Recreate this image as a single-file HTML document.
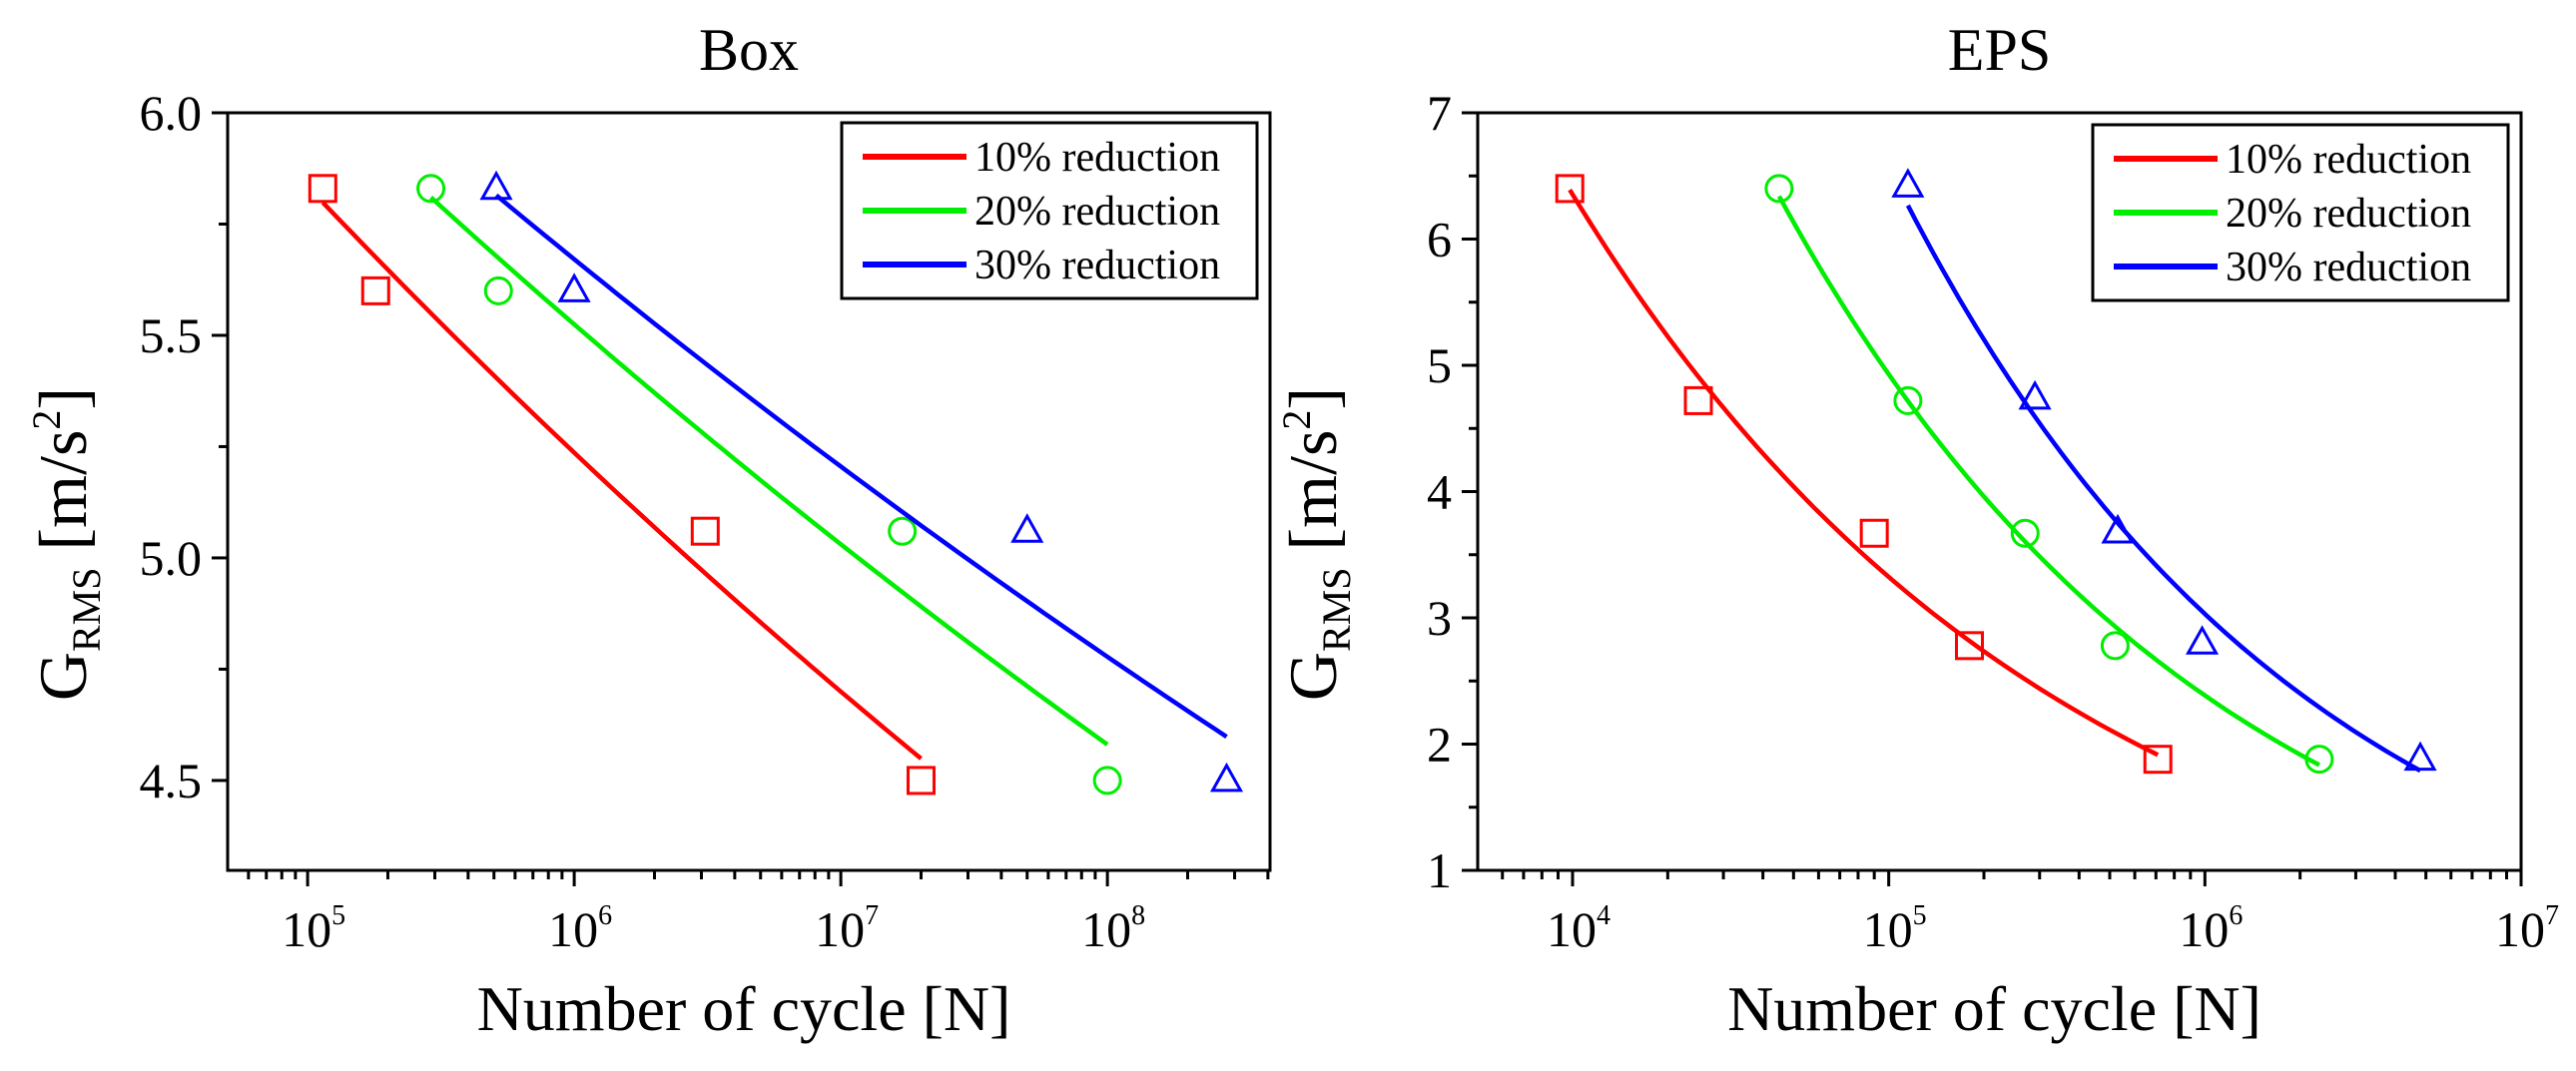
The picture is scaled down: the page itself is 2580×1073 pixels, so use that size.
<!DOCTYPE html>
<html><head><meta charset="utf-8"><style>
html,body{margin:0;padding:0;background:#fff;}
svg{display:block;font-family:"Liberation Serif",serif;}
</style></head><body>
<svg id="chart" width="2580" height="1073" viewBox="0 0 2580 1073" xmlns="http://www.w3.org/2000/svg"></svg>
<script>
// ---- Box panel data ----
const boxRedN = [1.14e5, 1.8e5, 3.1e6, 2.0e7];
const boxRedG = [5.83, 5.60, 5.06, 4.50];
const boxGreenN = [2.9e5, 5.2e5, 1.7e7, 1.0e8];
const boxGreenG = [5.83, 5.60, 5.06, 4.50];
const boxBlueN = [5.1e5, 1.0e6, 5.0e7, 2.8e8];
const boxBlueG = [5.83, 5.60, 5.06, 4.50];
const boxYTicks = [4.5, 5.0, 5.5, 6.0];
const boxYTickLabels = ["4.5", "5.0", "5.5", "6.0"];
const boxXDecades = [5, 6, 7, 8];
// ---- EPS panel data ----
const epsRedN = [9.8e3, 2.5e4, 9.0e4, 1.8e5, 7.1e5];
const epsRedG = [6.40, 4.72, 3.67, 2.78, 1.88];
const epsGreenN = [4.5e4, 1.15e5, 2.7e5, 5.2e5, 2.3e6];
const epsGreenG = [6.40, 4.72, 3.67, 2.78, 1.88];
const epsBlueN = [1.15e5, 2.9e5, 5.3e5, 9.8e5, 4.8e6];
const epsBlueG = [6.42, 4.74, 3.68, 2.80, 1.88];
const epsYTicks = [1, 2, 3, 4, 5, 6, 7];
const epsYTickLabels = ["1", "2", "3", "4", "5", "6", "7"];
const epsXDecades = [4, 5, 6, 7];
const legendLabels = ["10% reduction", "20% reduction", "30% reduction"];

const NS = "http://www.w3.org/2000/svg";
const svg = document.getElementById('chart');
function mk(tag, attrs, parent, text) {
  const e = document.createElementNS(NS, tag);
  for (const k in attrs) e.setAttribute(k, attrs[k]);
  if (text !== undefined) e.textContent = text;
  (parent || svg).appendChild(e);
  return e;
}
const RED = "#ff0000", GREEN = "#00ee00", BLUE = "#0000ff";

function panel(cfg) {
  const g = mk('g', {});
  
  
  const L = cfg.left, R = cfg.right, T = 113, B = 872;
  const x = v => L + (Math.log10(v) - cfg.xmin) / (cfg.xmax - cfg.xmin) * (R - L);
  const y = v => B - (v - cfg.ymin) / (cfg.ymax - cfg.ymin) * (B - T);
  const fr = mk('rect', {x: L, y: T, width: R - L, height: B - T, fill: 'none', stroke: '#000', 'stroke-width': 3}, g);
  
  
  const t = mk('text', {x: (L + R) / 2, y: 70, 'text-anchor': 'middle', 'font-size': 60}, g, cfg.title);
  
  
  cfg.yTicks.forEach((v, i) => {
    mk('line', {x1: L - 16, x2: L, y1: y(v), y2: y(v), stroke: '#000', 'stroke-width': 3}, g);
    const lb = mk('text', {x: L - 26, y: y(v) + 17, 'text-anchor': 'end', 'font-size': 50}, g, cfg.yTickLabels[i]);
    
    
  });
  for (let v = cfg.yTicks[0] - cfg.yMinor; v <= cfg.ymax + 1e-9; v += cfg.yMinor * 2) {
    if (v < cfg.ymin - 1e-9) continue;
    mk('line', {x1: L - 9, x2: L, y1: y(v), y2: y(v), stroke: '#000', 'stroke-width': 3}, g);
  }
  for (let d = Math.floor(cfg.xmin); d <= Math.ceil(cfg.xmax); d++) {
    for (let m = 1; m <= 9; m++) {
      const v = m * Math.pow(10, d);
      const lv = Math.log10(v);
      if (lv < cfg.xmin - 1e-6 || lv > cfg.xmax + 1e-6) continue;
      const len = m === 1 ? 16 : 9;
      mk('line', {x1: x(v), x2: x(v), y1: B, y2: B + len, stroke: '#000', 'stroke-width': 3}, g);
    }
  }
  cfg.xDecades.forEach(d => {
    const xx = x(Math.pow(10, d));
    const tl = mk('text', {x: xx - 26, y: 948, 'font-size': 50}, g);
    
    
    mk('tspan', {}, tl, '10');
    mk('tspan', {dy: -22, 'font-size': 28}, tl, String(d));
  });
  const xl = mk('text', {x: (L + R) / 2 - 5, y: 1032, 'text-anchor': 'middle', 'font-size': 64}, g, 'Number of cycle [N]');
  
  
  const yl = mk('text', {transform: `translate(${cfg.left - 142},545) rotate(-90)`, 'text-anchor': 'middle', 'font-size': 68}, g);
  
  
  mk('tspan', {}, yl, 'G');
  mk('tspan', {dy: 14, 'font-size': 40}, yl, 'RMS');
  mk('tspan', {dy: -14}, yl, ' [m/s');
  mk('tspan', {dy: -26, 'font-size': 40}, yl, '2');
  mk('tspan', {dy: 26}, yl, ']');
  const series = [
    {N: cfg.redN, G: cfg.redG, c: RED, m: 'square', n: 'red-10pct'},
    {N: cfg.greenN, G: cfg.greenG, c: GREEN, m: 'circle', n: 'green-20pct'},
    {N: cfg.blueN, G: cfg.blueG, c: BLUE, m: 'triangle', n: 'blue-30pct'}
  ];
  series.forEach(s => {
    const lx = s.N.map(Math.log), ly = s.G.map(Math.log);
    const n = lx.length, mx = lx.reduce((a, b) => a + b) / n, my = ly.reduce((a, b) => a + b) / n;
    let sxy = 0, sxx = 0;
    for (let i = 0; i < n; i++) { sxy += (lx[i] - mx) * (ly[i] - my); sxx += (lx[i] - mx) ** 2; }
    const b = sxy / sxx, a = my - b * mx;
    const n0 = Math.min(...s.N), n1 = Math.max(...s.N);
    let d = '';
    for (let k = 0; k <= 60; k++) {
      const nv = Math.exp(Math.log(n0) + (Math.log(n1) - Math.log(n0)) * k / 60);
      const gv = Math.exp(a + b * Math.log(nv));
      d += (k ? 'L' : 'M') + x(nv).toFixed(1) + ',' + y(gv).toFixed(1);
    }
    const p = mk('path', {d: d, fill: 'none', stroke: s.c, 'stroke-width': 4.5}, g);
    
    
    s.N.forEach((nv, i) => {
      const cx = x(nv), cy = y(s.G[i]);
      let e;
      if (s.m === 'square') e = mk('rect', {x: cx - 13, y: cy - 13, width: 26, height: 26, fill: 'none', stroke: s.c, 'stroke-width': 3}, g);
      else if (s.m === 'circle') e = mk('circle', {cx: cx, cy: cy, r: 13, fill: 'none', stroke: s.c, 'stroke-width': 3}, g);
      else e = mk('polygon', {points: `${cx},${cy - 15} ${cx - 14},${cy + 10} ${cx + 14},${cy + 10}`, fill: 'none', stroke: s.c, 'stroke-width': 3}, g);
      
      
    });
  });
  const lg = mk('g', {}, g);
  
  
  mk('rect', {x: cfg.legX, y: cfg.legY, width: 416, height: 176, fill: '#fff', stroke: '#000', 'stroke-width': 3}, lg);
  [RED, GREEN, BLUE].forEach((c, i) => {
    const yy = cfg.legY + 34 + i * 54;
    const le = mk('g', {}, lg);
    
    
    mk('line', {x1: cfg.legX + 21, x2: cfg.legX + 125, y1: yy, y2: yy, stroke: c, 'stroke-width': 6}, le);
    mk('text', {x: cfg.legX + 133, y: yy + 14, 'font-size': 42}, le, legendLabels[i]);
  });
}

panel({name: 'box-panel', title: 'Box', left: 228, right: 1272, xmin: 4.70, xmax: 8.61, ymin: 4.298, ymax: 6.0,
  yTicks: boxYTicks, yTickLabels: boxYTickLabels, yMinor: 0.25, xDecades: boxXDecades,
  redN: boxRedN, redG: boxRedG, greenN: boxGreenN, greenG: boxGreenG, blueN: boxBlueN, blueG: boxBlueG,
  legX: 843, legY: 123});
panel({name: 'eps-panel', title: 'EPS', left: 1480, right: 2525, xmin: 3.70, xmax: 7.0, ymin: 1, ymax: 7,
  yTicks: epsYTicks, yTickLabels: epsYTickLabels, yMinor: 0.5, xDecades: epsXDecades,
  redN: epsRedN, redG: epsRedG, greenN: epsGreenN, greenG: epsGreenG, blueN: epsBlueN, blueG: epsBlueG,
  legX: 2096, legY: 125});
</script>
</body></html>
